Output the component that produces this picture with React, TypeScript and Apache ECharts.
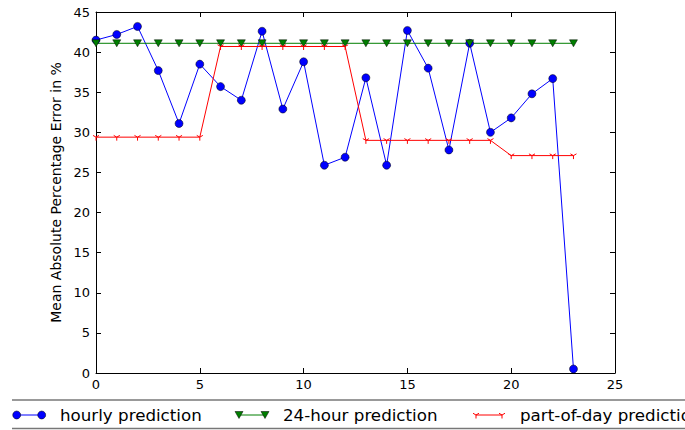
import React, { useEffect, useRef } from "react";
import * as echarts from "echarts";

const hours = [0, 1, 2, 3, 4, 5, 6, 7, 8, 9, 10, 11, 12, 13, 14, 15, 16, 17, 18, 19, 20, 21, 22, 23];
const hourlyPrediction = [41.5, 42.2, 43.2, 37.7, 31.1, 38.5, 35.7, 34.0, 42.6, 32.9, 38.8, 25.9, 26.9, 36.8, 25.9, 42.7, 38.0, 27.8, 41.1, 30.0, 31.8, 34.8, 36.7, 0.5];
const dayPrediction = [41.1, 41.1, 41.1, 41.1, 41.1, 41.1, 41.1, 41.1, 41.1, 41.1, 41.1, 41.1, 41.1, 41.1, 41.1, 41.1, 41.1, 41.1, 41.1, 41.1, 41.1, 41.1, 41.1, 41.1];
const partOfDayPrediction = [29.4, 29.4, 29.4, 29.4, 29.4, 29.4, 40.7, 40.7, 40.7, 40.7, 40.7, 40.7, 40.7, 29.0, 29.0, 29.0, 29.0, 29.0, 29.0, 29.0, 27.1, 27.1, 27.1, 27.1];
const seriesNames = ["hourly prediction", "24-hour prediction", "part-of-day prediction"];
const xTicks = { min: 0, max: 25, interval: 5 };
const yTicks = { min: 0, max: 45, interval: 5 };
const yTitle = "Mean Absolute Percentage Error in %";

const FONT = "DejaVu Sans";
const BLUE = "#0000ff";
const GREEN = "#007f00";
const RED = "#ff0000";
const TRI_DOWN = "path://M0,0L0,5M0,0L-4.33,-2.5M0,0L4.33,-2.5M-5,-5M5,5";

function pairs(vals: number[]) {
  return hours.map((h, i) => [h, vals[i]]);
}

function yMarker(cx: number, cy: number) {
  return [
    { type: "line", shape: { x1: cx, y1: cy, x2: cx, y2: cy + 3.5 }, style: { stroke: RED, lineWidth: 1 } },
    { type: "line", shape: { x1: cx, y1: cy, x2: cx - 3, y2: cy - 1.75 }, style: { stroke: RED, lineWidth: 1 } },
    { type: "line", shape: { x1: cx, y1: cy, x2: cx + 3, y2: cy - 1.75 }, style: { stroke: RED, lineWidth: 1 } },
  ];
}

function tri(cx: number, cy: number) {
  return {
    type: "polygon",
    shape: { points: [[cx - 4, cy - 3.5], [cx + 4, cy - 3.5], [cx, cy + 3.5]] },
    style: { fill: GREEN, stroke: "#000", lineWidth: 0.5 },
  };
}

export default function App() {
  const ref = useRef<HTMLDivElement>(null);
  useEffect(() => {
    if (!ref.current) return;
    const chart = echarts.init(ref.current, null, { renderer: "svg" });
    const axisCommon = {
      type: "value" as const,
      axisLine: { show: true, onZero: false, lineStyle: { color: "#000", width: 1 } },
      axisTick: { show: true, inside: true, length: 5, lineStyle: { color: "#000", width: 1 } },
      splitLine: { show: false },
    };
    const ly = 415;
    const fs = 16.7;
    const legendGraphics: any[] = [
      { type: "line", shape: { x1: 12, y1: 400, x2: 700, y2: 400 }, style: { stroke: "#777", lineWidth: 1.5 } },
      { type: "line", shape: { x1: 12, y1: 428.5, x2: 700, y2: 428.5 }, style: { stroke: "#777", lineWidth: 1.5 } },
      { type: "line", shape: { x1: 16.7, y1: ly, x2: 41.7, y2: ly }, style: { stroke: BLUE, lineWidth: 1 } },
      { type: "circle", shape: { cx: 16.7, cy: ly, r: 4 }, style: { fill: BLUE, stroke: "#000", lineWidth: 0.5 } },
      { type: "circle", shape: { cx: 41.7, cy: ly, r: 4 }, style: { fill: BLUE, stroke: "#000", lineWidth: 0.5 } },
      { type: "text", style: { text: seriesNames[0], x: 60, y: ly, fontSize: fs, fontFamily: FONT, fill: "#000", verticalAlign: "middle" } },
      { type: "line", shape: { x1: 239, y1: ly, x2: 265, y2: ly }, style: { stroke: GREEN, lineWidth: 1 } },
      tri(239, ly),
      tri(265, ly),
      { type: "text", style: { text: seriesNames[1], x: 283, y: ly, fontSize: fs, fontFamily: FONT, fill: "#000", verticalAlign: "middle" } },
      { type: "line", shape: { x1: 476, y1: ly, x2: 502, y2: ly }, style: { stroke: RED, lineWidth: 1 } },
      ...yMarker(476, ly),
      ...yMarker(502, ly),
      { type: "text", style: { text: seriesNames[2], x: 520, y: ly, fontSize: fs, fontFamily: FONT, fill: "#000", verticalAlign: "middle" } },
    ];
    chart.setOption({
      animation: false,
      backgroundColor: "#fff",
      textStyle: { fontFamily: FONT },
      grid: { left: 96, top: 12, right: 70, bottom: 57 },
      xAxis: [
        {
          ...axisCommon,
          position: "bottom",
          ...xTicks,
          axisLabel: { show: true, margin: 5, fontSize: 13, color: "#000", fontFamily: FONT },
        },
        {
          ...axisCommon,
          position: "top",
          ...xTicks,
          axisLabel: { show: false },
        },
      ],
      yAxis: [
        {
          ...axisCommon,
          position: "left",
          ...yTicks,
          name: yTitle,
          nameLocation: "middle",
          nameGap: 28,
          nameTextStyle: { fontSize: 14, color: "#000", fontFamily: FONT },
          axisLabel: { show: true, margin: 6, fontSize: 13, color: "#000", fontFamily: FONT },
        },
        {
          ...axisCommon,
          position: "right",
          ...yTicks,
          axisLabel: { show: false },
        },
      ],
      series: [
        {
          name: seriesNames[0],
          type: "line",
          data: pairs(hourlyPrediction),
          symbol: "circle",
          symbolSize: 8,
          lineStyle: { color: BLUE, width: 1 },
          itemStyle: { color: BLUE, borderColor: "#000", borderWidth: 0.5 },
        },
        {
          name: seriesNames[1],
          type: "line",
          data: pairs(dayPrediction),
          symbol: "triangle",
          symbolRotate: 180,
          symbolSize: [8, 7],
          lineStyle: { color: GREEN, width: 1 },
          itemStyle: { color: GREEN, borderColor: "#000", borderWidth: 0.5 },
        },
        {
          name: seriesNames[2],
          type: "line",
          data: pairs(partOfDayPrediction),
          symbol: TRI_DOWN,
          symbolSize: 7,
          lineStyle: { color: RED, width: 1 },
          itemStyle: { color: RED, borderColor: RED, borderWidth: 1 },
        },
      ],
      graphic: legendGraphics,
    });
    return () => chart.dispose();
  }, []);
  return <div ref={ref} style={{ position: "fixed", left: 0, top: 0, width: 685, height: 430 }} />;
}
